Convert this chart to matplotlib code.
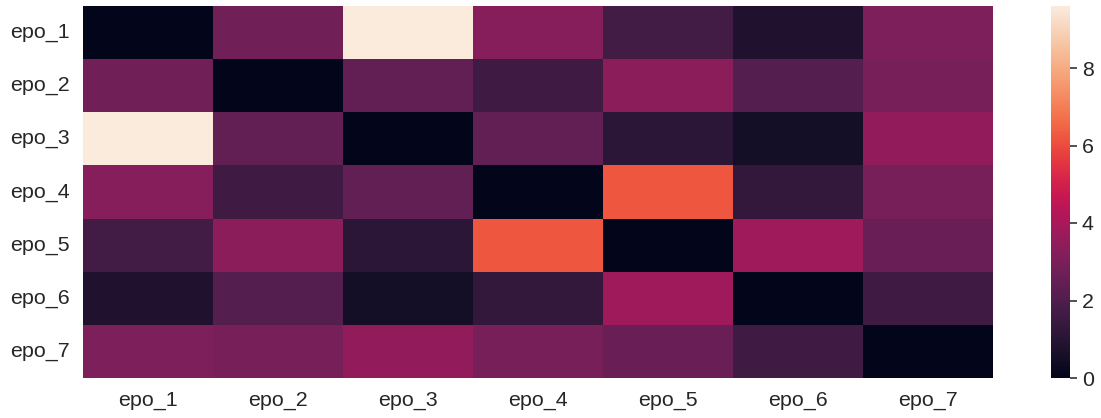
import numpy as np
import pandas as pd
import matplotlib
matplotlib.use("Agg")
import matplotlib.pyplot as plt
import seaborn as sns

labels = ["epo_1", "epo_2", "epo_3", "epo_4", "epo_5", "epo_6", "epo_7"]

# symmetric distance matrix
row_1 = [0.0, 2.75, 9.6, 3.25, 1.7, 0.8, 3.05]
row_2 = [2.75, 0.0, 2.4, 1.6, 3.4, 2.1, 2.9]
row_3 = [9.6, 2.4, 0.0, 2.4, 1.1, 0.5, 3.5]
row_4 = [3.25, 1.6, 2.4, 0.0, 6.2, 1.3, 2.9]
row_5 = [1.7, 3.4, 1.1, 6.2, 0.0, 3.8, 2.6]
row_6 = [0.8, 2.1, 0.5, 1.3, 3.8, 0.0, 1.6]
row_7 = [3.05, 2.9, 3.5, 2.9, 2.6, 1.6, 0.0]

df = pd.DataFrame([row_1, row_2, row_3, row_4, row_5, row_6, row_7],
                  index=labels, columns=labels)

sns.set_theme(style="white", font_scale=1.4)
plt.rcParams['font.family'] = ['Liberation Sans', 'DejaVu Sans']

fig = plt.figure(figsize=(11.01, 4.18), dpi=100)
ax = fig.add_axes([83/1101, 40/418, 910/1101, 372/418])
cax = fig.add_axes([1051/1101, 40/418, 19/1101, 372/418])

sns.heatmap(df, ax=ax, cbar_ax=cax)
ax.tick_params(axis='y', rotation=0)
cax.tick_params(right=True, length=5, width=1.2, color='#333333')

fig.savefig("out.png", dpi=100)
